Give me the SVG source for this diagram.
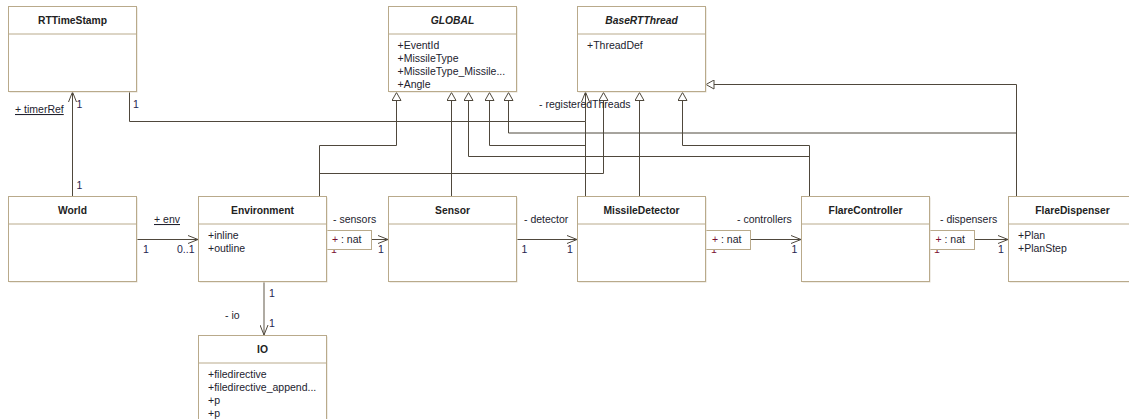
<svg xmlns="http://www.w3.org/2000/svg" width="1129" height="419" viewBox="0 0 1129 419">
<style>
.sh{fill:#e2dccf;stroke:none}
.box{fill:#fff;stroke:#b9aa8b;stroke-width:1}
.dv{stroke:#b9aa8b;stroke-width:1;fill:none}
.n{font-family:"Liberation Sans",Arial,sans-serif;font-weight:bold;font-size:10.3px;fill:#222;text-anchor:middle}
.it{font-style:italic}
.a{font-family:"Liberation Sans",Arial,sans-serif;font-size:10.5px;fill:#22222e}
.c{fill:none;stroke:#4f483c;stroke-width:1}
.lt{stroke:#9c968c;stroke-width:1.6}
.g{marker-end:url(#tri)}
.o{marker-end:url(#opn)}
.l{font-family:"Liberation Sans",Arial,sans-serif;font-size:10.5px;fill:#22222e}
.m{fill:#24244e}
.q{fill:#fff;stroke:#b9aa8b;stroke-width:1}
.mr{fill:#7a1030}
.u{text-decoration:underline}
</style>
<defs>
<marker id="tri" viewBox="0 0 9 10" refX="9" refY="5" markerWidth="9" markerHeight="10" markerUnits="userSpaceOnUse" orient="auto">
<path d="M0.5,0.5 L8.5,5 L0.5,9.5 Z" fill="#fff" stroke="#4f483c" stroke-width="1"/>
</marker>
<marker id="opn" viewBox="0 0 11 9" refX="10.5" refY="4.5" markerWidth="11" markerHeight="9" markerUnits="userSpaceOnUse" orient="auto">
<path d="M0.5,0.5 L10.5,4.5 L0.5,8.5" fill="none" stroke="#4f483c" stroke-width="1"/>
</marker>
</defs>
<rect width="1129" height="419" fill="#fff"/>

<g id="connectors">
<path class="c o" d="M72.5,196.5 V92"/>
<path class="c o" d="M129.5,92 V121.5 H585.5 V92"/>
<path class="c g" d="M319.5,196.5 V145.5 H396.5 V92"/>
<path class="c g" d="M319.5,196.5 V173.5 H603.5 V92"/>
<path class="c g" d="M451.5,196.5 V92"/>
<path class="c" d="M585.5,196.5 V121.5"/>
<path class="c g" d="M585.5,145.5 H489.5 V92"/>
<path class="c g" d="M639.5,196.5 V92"/>
<path class="c g" d="M809.5,196.5 V156.5 H468.5 V92"/>
<path class="c g" d="M809.5,196.5 V145.5 H682.5 V92"/>
<path class="c g" d="M1016.5,196.5 V133 H508.5 V92"/>
<path class="c g" d="M1016.5,196.5 V84.5 H705.5"/>
<path class="c o" d="M136.5,239.5 H198"/>
<path class="c o" d="M371.5,239.5 H388"/>
<path class="c o" d="M515.5,239.5 H577"/>
<path class="c o" d="M750.5,239.5 H801"/>
<path class="c o" d="M974.5,239.5 H1008"/>
<path class="c lt o" d="M264,281.5 V335"/>

<text class="l m" x="76.5" y="108">1</text>
<text class="l u" x="15" y="113">+ timerRef</text>
<text class="l m" x="76.5" y="189">1</text>
<text class="l m" x="133" y="108">1</text>
<text class="l" x="539" y="108">- registeredThreads</text>

<text class="l u" x="154" y="223">+ env</text>
<text class="l m" x="143" y="253">1</text>
<text class="l m" x="177" y="253">0..1</text>

<text class="l" x="333" y="223">- sensors</text>
<text class="l mr" x="331" y="253">1</text>
<rect class="q" x="325.5" y="230.5" width="46" height="19"/>
<text class="l" x="332" y="243"><tspan class="mr">+</tspan><tspan x="341">: nat</tspan></text>
<text class="l m" x="378" y="253">1</text>

<text class="l" x="524" y="223">- detector</text>
<text class="l m" x="521.5" y="253">1</text>
<text class="l m" x="567" y="253">1</text>

<text class="l" x="737" y="223">- controllers</text>
<text class="l mr" x="711" y="253">1</text>
<rect class="q" x="705.5" y="230.5" width="45" height="19"/>
<text class="l" x="712" y="243"><tspan class="mr">+</tspan><tspan x="721">: nat</tspan></text>
<text class="l m" x="791.5" y="253">1</text>

<text class="l" x="940" y="223">- dispensers</text>
<text class="l mr" x="934" y="253">1</text>
<rect class="q" x="928.5" y="230.5" width="46" height="19"/>
<text class="l" x="935.5" y="243"><tspan class="mr">+</tspan><tspan x="944.5">: nat</tspan></text>
<text class="l m" x="998" y="253">1</text>

<text class="l m" x="269" y="297">1</text>
<text class="l" x="225" y="319">- io</text>
<text class="l m" x="269" y="327">1</text>
</g>

<g id="RTTimeStamp">
<rect class="sh" x="9.5" y="7.5" width="128" height="85"/>
<rect class="box" x="8.5" y="6.5" width="128" height="85"/>
<path class="dv" d="M8.5,34 H136.5"/>
<text class="n" x="72.5" y="24">RTTimeStamp</text>
</g>

<g id="GLOBAL">
<rect class="sh" x="389.5" y="7.5" width="128" height="85"/>
<rect class="box" x="388.5" y="6.5" width="128" height="85"/>
<path class="dv" d="M388.5,34 H516.5"/>
<text class="n it" x="452.5" y="24">GLOBAL</text>
<text class="a" x="397.5" y="49">+EventId</text>
<text class="a" x="397.5" y="62">+MissileType</text>
<text class="a" x="397.5" y="75">+MissileType_Missile...</text>
<text class="a" x="397.5" y="88">+Angle</text>
</g>

<g id="BaseRTThread">
<rect class="sh" x="578.5" y="7.5" width="128" height="85"/>
<rect class="box" x="577.5" y="6.5" width="128" height="85"/>
<path class="dv" d="M577.5,34 H705.5"/>
<text class="n it" x="641.5" y="24">BaseRTThread</text>
<text class="a" x="587" y="49">+ThreadDef</text>
</g>

<g id="World">
<rect class="sh" x="9.5" y="197.5" width="128" height="85"/>
<rect class="box" x="8.5" y="196.5" width="128" height="85"/>
<path class="dv" d="M8.5,224 H136.5"/>
<text class="n" x="72.5" y="214">World</text>
</g>

<g id="Environment">
<rect class="sh" x="199.5" y="197.5" width="128" height="85"/>
<rect class="box" x="198.5" y="196.5" width="128" height="85"/>
<path class="dv" d="M198.5,224 H326.5"/>
<text class="n" x="262.5" y="214">Environment</text>
<text class="a" x="208" y="239">+inline</text>
<text class="a" x="208" y="252">+outline</text>
</g>

<g id="Sensor">
<rect class="sh" x="389.5" y="197.5" width="128" height="85"/>
<rect class="box" x="388.5" y="196.5" width="128" height="85"/>
<path class="dv" d="M388.5,224 H516.5"/>
<text class="n" x="452.5" y="214">Sensor</text>
</g>

<g id="MissileDetector">
<rect class="sh" x="578.5" y="197.5" width="128" height="85"/>
<rect class="box" x="577.5" y="196.5" width="128" height="85"/>
<path class="dv" d="M577.5,224 H705.5"/>
<text class="n" x="641.5" y="214">MissileDetector</text>
</g>

<g id="FlareController">
<rect class="sh" x="802.5" y="197.5" width="128" height="85"/>
<rect class="box" x="801.5" y="196.5" width="128" height="85"/>
<path class="dv" d="M801.5,224 H929.5"/>
<text class="n" x="865.5" y="214">FlareController</text>
</g>

<g id="FlareDispenser">
<rect class="sh" x="1009.5" y="197.5" width="128" height="85"/>
<rect class="box" x="1008.5" y="196.5" width="128" height="85"/>
<path class="dv" d="M1008.5,224 H1136.5"/>
<text class="n" x="1072.5" y="214">FlareDispenser</text>
<text class="a" x="1018" y="239">+Plan</text>
<text class="a" x="1018" y="252">+PlanStep</text>
</g>

<g id="IO">
<rect class="sh" x="199.5" y="336.5" width="128" height="85"/>
<rect class="box" x="198.5" y="335.5" width="128" height="85"/>
<path class="dv" d="M198.5,363 H326.5"/>
<text class="n" x="262.5" y="353">IO</text>
<text class="a" x="208" y="378">+filedirective</text>
<text class="a" x="208" y="391">+filedirective_append...</text>
<text class="a" x="208" y="404">+p</text>
<text class="a" x="208" y="417">+p</text>
</g>
</svg>
